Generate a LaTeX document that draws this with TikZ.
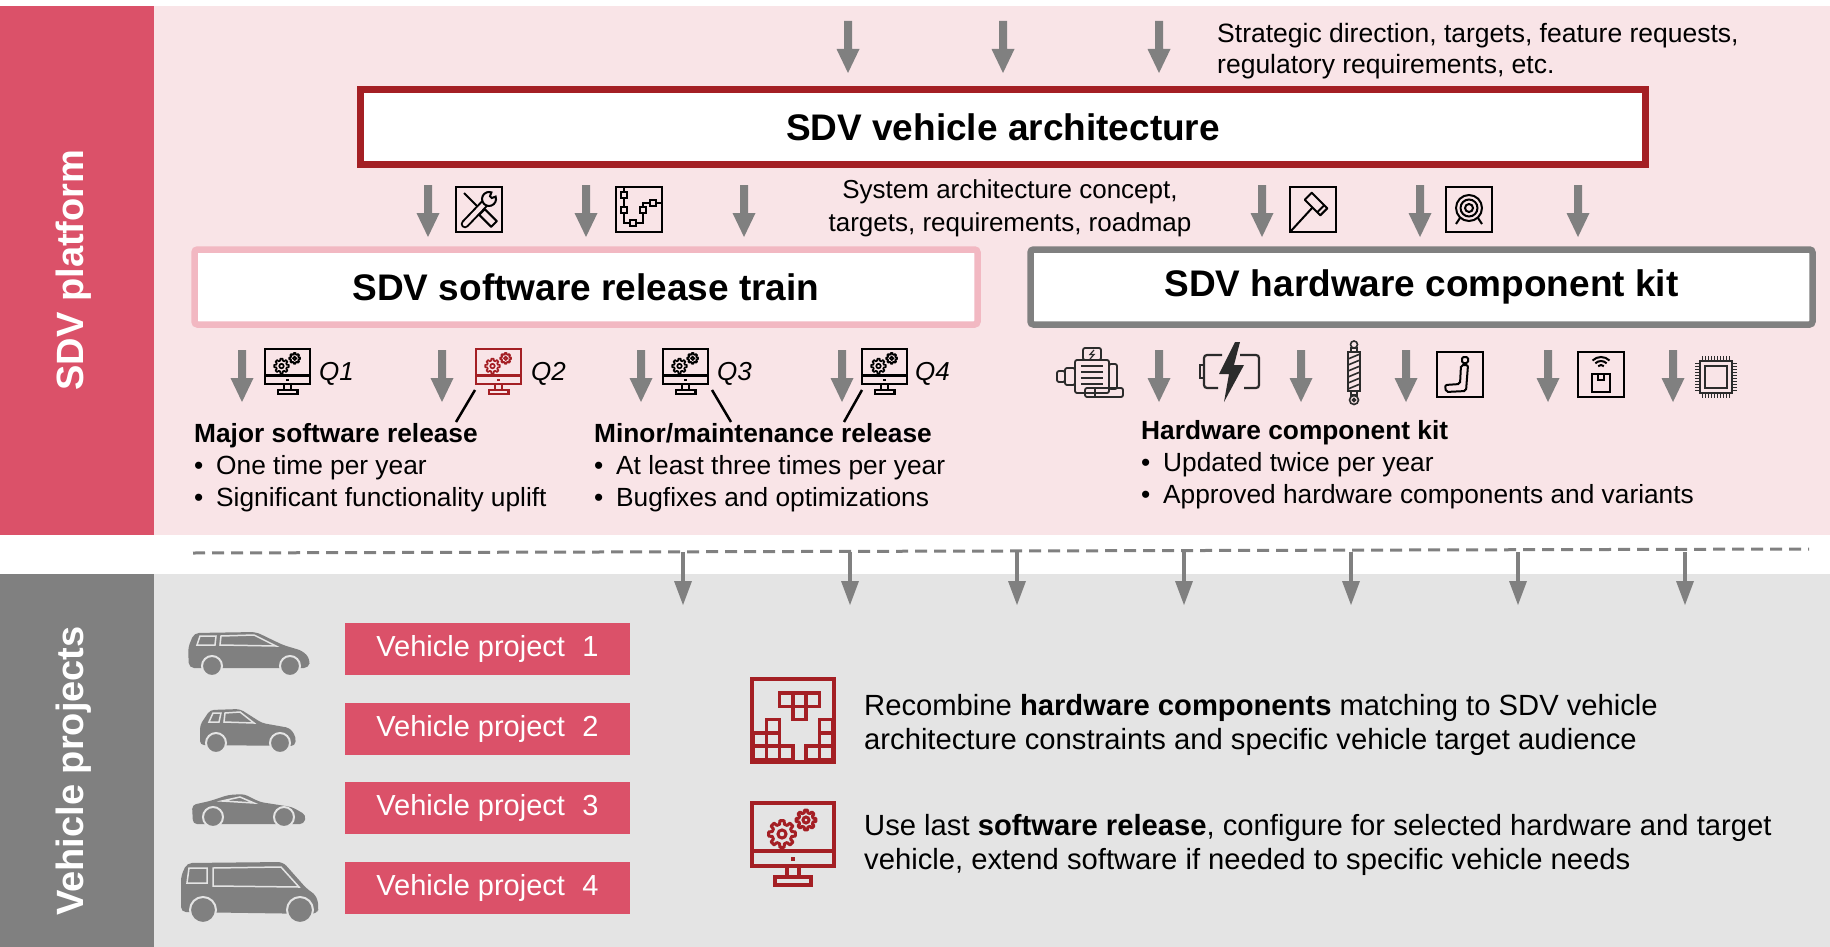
\documentclass[tikz,border=0pt]{standalone}
\usepackage{fontspec}
\setmainfont{Liberation Sans}
\usetikzlibrary{positioning}

\definecolor{sdvred}{HTML}{DB5169}
\definecolor{sdvpink}{HTML}{F9E4E7}
\definecolor{sdvrose}{HTML}{F2B8C2}
\definecolor{sdvdark}{HTML}{A41F24}
\definecolor{sdvgray}{HTML}{808080}
\definecolor{projgray}{HTML}{E4E4E4}
\definecolor{iconink}{HTML}{2B2B2B}

\tikzset{
	boxtitle/.style={fill=white, inner sep=0pt, font=\fontsize{37}{40}\selectfont\bfseries},
	sidelabel/.style={rotate=90, text=white, font=\fontsize{38}{40}\selectfont\bfseries},
	infotext/.style={anchor=west, align=left, inner sep=0pt, font=\fontsize{26.3}{32}\selectfont},
	notetext/.style={anchor=west, align=left, inner sep=0pt, font=\fontsize{29.2}{34}\selectfont},
	projbox/.style={fill=sdvred, text=white, minimum width=285pt, minimum height=52pt, inner sep=0pt, font=\fontsize{29}{34}\selectfont},
	qlabel/.style={anchor=west, inner sep=0pt, font=\fontsize{26}{30}\selectfont\itshape},
	iconline/.style={line width=2pt},
}

\newcommand{\bul}{\makebox[22pt][l]{•}}
% thick grey arrow, top of the shaft at (#1,#2)
\newcommand{\drawArrow}[2]{
	\fill[sdvgray] (#1-4,#2) -- (#1+4,#2) -- (#1+4,#2+28) -- (#1+11.5,#2+28) -- (#1,#2+52) -- (#1-11.5,#2+28) -- (#1-4,#2+28) -- cycle;
}
% thin arrow hanging from the dashed line
\newcommand{\drawThinArrow}[2]{
	\draw[sdvgray, line width=4.5pt] (#1,#2) -- (#1,#2+31);
	\fill[sdvgray] (#1-9,#2+29) -- (#1+9,#2+29) -- (#1,#2+53) -- cycle;
}
% gear outline: x, y, radius
\newcommand{\drawGear}[3]{
	\begin{scope}[shift={(#1,#2)}]
		\draw[line join=round] (-9:#3) \foreach \ang in {0,45,...,315} { -- ({\ang-9}:#3) -- ({\ang+9}:#3) -- ({\ang+14}:{#3*0.74}) -- ({\ang+31}:{#3*0.74}) } -- cycle;
		\draw (0,0) circle[radius=#3*0.3];
	\end{scope}
}
% monitor with two gears: top left x, y, scale, colour
\newcommand{\drawMonitor}[4]{
	\begin{scope}[shift={(#1,#2)}, scale=#3, draw=#4, line width=#3*4pt]
		\draw (0,0) rectangle (82,63);
		\draw (0,48) -- (82,48);
		\fill[#4] (39,54) rectangle (43,58);
		\draw (35,63) rectangle (47,74);
		\draw (23,74) rectangle (59,82);
		\begin{scope}[line width=#3*3pt]
			\drawGear{30}{31}{13.5}
			\drawGear{54}{17}{10}
		\end{scope}
	\end{scope}
}
% falling blocks: top left x, y
\newcommand{\drawBlocks}[2]{
	\begin{scope}[shift={(#1,#2)}, draw=sdvdark, line width=3.5pt]
		\draw[line width=4pt] (0,0) rectangle (82,83);
		\foreach \cx/\ry in {2/4,3/4,4/4,3/3,1/2,0/1,1/1,0/0,1/0,2/0,5/2,5/1,4/0,5/0}
			{\draw (1+\cx*13.3,67.2-\ry*13.3) rectangle ++(13.3,13.3);}
	\end{scope}
}

\begin{document}
\begin{tikzpicture}[x=1pt, y=-1pt]
\useasboundingbox (0,0) rectangle (1830,947);

%Bands
\fill[white] (0,0) rectangle (1830,947);
\fill[sdvred] (0,6) rectangle (154,535);
\fill[sdvpink] (154,6) rectangle (1830,535);
\fill[sdvgray] (0,574) rectangle (154,947);
\fill[projgray] (154,574) rectangle (1830,947);

\node[sidelabel] (platform) at (74,270) {SDV platform};
\node[sidelabel] (projects) at (74,771) {Vehicle projects};

%Inputs
\foreach \x in {848,1003,1159}
	{\drawArrow{\x}{21}}
\node[infotext, font=\fontsize{26.5}{31}\selectfont] (inputs) at (1217,51) {Strategic direction, targets, feature requests,\\regulatory requirements, etc.};

%Architecture
\node[boxtitle, draw=sdvdark, line width=7pt, minimum width=1285pt, minimum height=75pt] (arch) at (1003,127) {SDV vehicle architecture};
\foreach \x in {428,586,744,1262,1420,1578}
	{\drawArrow{\x}{185}}
\node[infotext, anchor=center, align=center, font=\fontsize{26}{33}\selectfont] (concept) at (1010,208) {System architecture concept,\\targets, requirements, roadmap};

% spanner and screwdriver
\begin{scope}[shift={(456,187)}, iconline]
	\draw (0,0) rectangle (46,45);
	\draw (8,6) -- (24,22);
	\draw[line join=round] (28.8,22.2) -- (40.8,34.2) -- (35.2,39.8) -- (23.2,27.8) -- cycle;
	\draw[line width=8.5pt, line cap=round] (9,37) -- (31,14);
	\draw[sdvpink, line width=4.5pt, line cap=round] (9,37) -- (31,14);
	\draw[fill=sdvpink] (39.6,9.6) arc[start angle=340, end angle=650, radius=7] -- (34,9.2) -- (35.8,11) -- cycle;
\end{scope}
% flow chart
\begin{scope}[shift={(616,187)}, iconline]
	\draw (0,0) rectangle (46,45);
	\draw[line width=1.5pt] (8,0) -- (8,36) -- (27,36) -- (27,16) -- (46,16);
	\foreach \p in {(8,8),(8,23),(17,36),(27,23),(37,16)}
		{\draw[line width=1.5pt, fill=sdvpink] \p ++(-3,-3) rectangle ++(6,6);}
\end{scope}
% gavel
\begin{scope}[shift={(1290,187)}, iconline]
	\draw (0,0) rectangle (46,45);
	\draw (0,45) -- (22.5,20.5);
	\draw[line join=round] (37.3,21.3) -- (30.3,28.3) -- (14.7,12.7) -- (21.7,5.7) -- cycle;
	\draw (34.2,18.2) -- (27.2,25.2);
\end{scope}
% target
\begin{scope}[shift={(1446,187)}, iconline]
	\draw (0,0) rectangle (46,45);
	\foreach \rad in {13,8.5,4}
		{\draw (23,21) circle[radius=\rad];}
	\draw (14,31) -- (10,37);
	\draw (32,31) -- (36,37);
\end{scope}

%Release train and component kit
\node[boxtitle, draw=sdvrose, line width=6.5pt, rounded corners=3pt, minimum width=783pt, minimum height=75pt] (train) at (586,287) {SDV software release train};
\node[boxtitle, draw=sdvgray, line width=6.5pt, rounded corners=3pt, minimum width=782pt, minimum height=75pt] (kit) at (1421.5,287) {SDV hardware component kit};

\foreach \x in {242,442,641,842,1159,1301,1406,1548,1673}
	{\drawArrow{\x}{350}}

% quarterly releases
\drawMonitor{265}{349}{0.55}{black}
\drawMonitor{476}{349}{0.55}{sdvdark}
\drawMonitor{663}{349}{0.55}{black}
\drawMonitor{862}{349}{0.55}{black}
\foreach \q/\x in {1/319,2/531,3/717,4/915}
	{\node[qlabel] (q\q) at (\x,374) {Q\q};}

\node[infotext] (major) at (194,468) {\textbf{Major software release}\\\bul One time per year\\\bul Significant functionality uplift};
\node[infotext] (minor) at (594,468) {\textbf{Minor/maintenance release}\\\bul At least three times per year\\\bul Bugfixes and optimizations};

\coordinate (mon2) at (475,390);
\coordinate (mon3) at (712,390);
\coordinate (mon4) at (862,390);
\coordinate (majortop) at (456,422);
\coordinate (minortop) at (731,422);
\coordinate (minortop2) at (844,422);
\draw[line width=2.5pt] (mon2) -- (majortop);
\draw[line width=2.5pt] (mon3) -- (minortop);
\draw[line width=2.5pt] (mon4) -- (minortop2);

% hardware parts
% motor
\begin{scope}[shift={(1055,347)}, iconink, line width=1.8pt, rounded corners=2pt]
	\draw (28,1) rectangle (46,13);
	\draw[line width=1.2pt, rounded corners=0pt] (39,3) -- (35,7.5) -- (39,7.5) -- (35,12);
	\draw (20,13) rectangle (54,46);
	\foreach \y in {19,25,31,37}
		{\draw (26,\y) -- (48,\y);}
	\draw (10,21) rectangle (20,38);
	\draw (2,24) rectangle (10,35);
	\draw (54,17) rectangle (62,42);
	\draw (30,41) rectangle (68,50);
	\draw (40,41) -- (40,50);
\end{scope}
% battery
\begin{scope}[shift={(1199,342)}, iconink, line width=2.2pt]
	\draw[rounded corners=3pt] (23,13) -- (5,13) -- (5,46) -- (19,46);
	\draw[rounded corners=3pt] (41,13) -- (60,13) -- (60,46) -- (45,46);
	\draw (5,23) -- (1,23) -- (1,36) -- (5,36);
	\fill (36,0) -- (20,32) -- (30,32) -- (25,60) -- (45,23) -- (35,23) -- (41,0) -- cycle;
\end{scope}
% shock absorber
\begin{scope}[shift={(1354,341)}, iconink, line width=1.6pt]
	\draw (0,3.5) circle[radius=3.5];
	\draw (-3,7) rectangle (3,11);
	\draw (-6,11) rectangle (6,50);
	\foreach \y in {13,19,...,43}
		{\draw (-6,\y+5) -- (6,\y);}
	\draw (-3,50) rectangle (3,54);
	\draw (0,59) circle[radius=4.5];
	\draw (0,59) circle[radius=1.5];
\end{scope}
% seat
\begin{scope}[shift={(1437,352)}, iconline]
	\draw (0,0) rectangle (46,45);
	\draw[rounded corners=1.5pt] (25,5) rectangle (31,11);
	\draw[rounded corners=2pt] (24,13) -- (31,13) -- (29,39) -- (9,40) -- (8,33) -- (23,32) -- cycle;
\end{scope}
% antenna box
\begin{scope}[shift={(1578,352)}, iconline]
	\draw (0,0) rectangle (46,45);
	\foreach \rad in {4,8,12}
		{\draw ([shift={(23,17)}]225:\rad) arc[start angle=225, end angle=315, radius=\rad];}
	\draw (14,22) rectangle (32,40);
	\draw (20,22) -- (20,28) -- (26,28) -- (26,22);
\end{scope}
% chip
\begin{scope}[shift={(1695,356)}, iconink, line width=1.8pt]
	\draw (5,5) rectangle (37,37);
	\draw (10,10) rectangle (32,32);
	\foreach \pin in {7,10,...,35} {
		\draw[line width=1pt] (\pin,0) -- (\pin,5);
		\draw[line width=1pt] (\pin,37) -- (\pin,42);
		\draw[line width=1pt] (0,\pin) -- (5,\pin);
		\draw[line width=1pt] (37,\pin) -- (42,\pin);
	}
\end{scope}

\node[infotext] (hwkit) at (1141,465) {\textbf{Hardware component kit}\\\bul Updated twice per year\\\bul Approved hardware components and variants};

%Hand over to projects
\draw[sdvgray, line width=3pt, dash pattern=on 12pt off 7pt] (193,553) -- (1809,549);
\foreach \x in {683,850,1017,1184,1351,1518,1685}
	{\drawThinArrow{\x}{552}}

% cars
\begin{scope}[shift={(188,632)}]
	\fill[sdvgray, rounded corners=5pt] (1,36) -- (0,16) -- (6,1) -- (68,0) -- (95,13) -- (115,19) -- (122,27) -- (121,36) -- cycle;
	\draw[projgray, line width=1.5pt] (12,4) -- (28,4) -- (27,13) -- (9,13) -- cycle;
	\draw[projgray, line width=1.5pt] (33,4) -- (66,3) -- (88,14) -- (32,13) -- cycle;
	\foreach \x in {24,102}
		{\draw[projgray, fill=sdvgray, line width=2pt] (\x,34) circle[radius=10];}
\end{scope}
\begin{scope}[shift={(200,709)}]
	\fill[sdvgray, rounded corners=4pt] (0,36) -- (0,16) -- (10,1) -- (40,0) -- (62,14) -- (90,19) -- (96,28) -- (95,37) -- cycle;
	\draw[projgray, line width=1.5pt] (13,4) -- (21,4) -- (19,13) -- (9,13) -- cycle;
	\draw[projgray, line width=1.5pt] (25,4) -- (40,3) -- (54,14) -- (24,13) -- cycle;
	\foreach \x in {16,80}
		{\draw[projgray, fill=sdvgray, line width=2pt] (\x,34) circle[radius=10];}
\end{scope}
\begin{scope}[shift={(192,793)}]
	\fill[sdvgray, rounded corners=4pt] (1,31) -- (0,12) -- (18,8) -- (36,2) -- (52,1) -- (68,9) -- (100,14) -- (114,22) -- (112,31) -- cycle;
	\draw[projgray, line width=1.5pt] (30,8) -- (48,4) -- (62,10) -- cycle;
	\foreach \x in {21,92}
		{\draw[projgray, fill=sdvgray, line width=2pt] (\x,24) circle[radius=10];}
\end{scope}
\begin{scope}[shift={(181,862)}]
	\fill[sdvgray, rounded corners=5pt] (0,50) -- (0,14) -- (6,1) -- (102,0) -- (126,27) -- (135,33) -- (138,45) -- (136,52) -- cycle;
	\draw[projgray, line width=1.5pt] (8,6) -- (26,6) -- (26,21) -- (6,21) -- cycle;
	\draw[projgray, line width=1.5pt] (32,6) -- (100,5) -- (118,25) -- (32,24) -- cycle;
	\foreach \x in {22,119}
		{\draw[projgray, fill=sdvgray, line width=2pt] (\x,48) circle[radius=13];}
\end{scope}

\foreach \i/\y in {1/649,2/729,3/808,4/888}
	{\node[projbox] (vp\i) at (487.5,\y) {Vehicle project\hspace{0.6em}\i};}

\drawBlocks{752}{679}
\drawMonitor{752}{803}{1}{sdvdark}
\node[notetext] (recombine) at (864,725) {Recombine \textbf{hardware components} matching to SDV vehicle\\architecture constraints and specific vehicle target audience};
\node[notetext] (reuse) at (864,845) {Use last \textbf{software release}, configure for selected hardware and target\\vehicle, extend software if needed to specific vehicle needs};

\end{tikzpicture}
\end{document}
